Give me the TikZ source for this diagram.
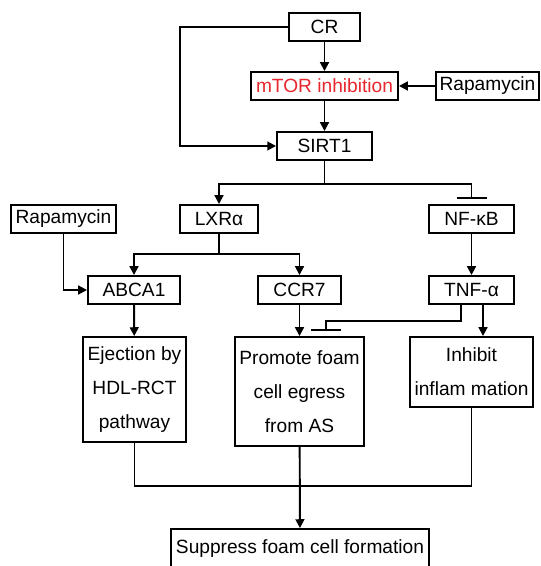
\documentclass[tikz,border=0pt]{standalone}
\usepackage{fontspec}
\setmainfont{Liberation Sans}
\usetikzlibrary{arrows.meta}
\definecolor{mtorred}{HTML}{E8262D}

\begin{document}
\begin{tikzpicture}[
            box/.style={draw, line width=1.1pt, minimum height=0.56cm, inner sep=1pt, align=center, font=\fontsize{10.9}{19.4}\selectfont},
            arrow/.style={-{Triangle[length=5pt,width=5pt]}, line width=1.1pt},
            block/.style={-{Bar[width=0.6cm]}, line width=1.1pt, shorten >=0.1cm}
        ]
            \useasboundingbox (0,0) rectangle (10.8,11.32);

            % Upstream
            \node[box, minimum width=1.42cm] (cr) at (6.49,10.78) {CR};
            \node[box, minimum width=2.94cm, text=mtorred] (mtor) at (6.49,9.60) {mTOR inhibition};
            \node[box, minimum width=2.06cm] (rapa1) at (9.75,9.60) {Rapamycin};
            \node[box, minimum width=1.90cm] (sirt) at (6.49,8.40) {SIRT1};

            % Targets
            \node[box, minimum width=2.10cm] (rapa2) at (1.27,6.94) {Rapamycin};
            \node[box, minimum width=1.56cm] (lxr) at (4.38,6.94) {LXRα};
            \node[box, minimum width=1.70cm] (nfkb) at (9.43,6.94) {NF-κB};
            \node[box, minimum width=1.84cm] (abca) at (2.68,5.52) {ABCA1};
            \node[box, minimum width=1.66cm] (ccr) at (5.99,5.52) {CCR7};
            \node[box, minimum width=1.70cm] (tnf) at (9.43,5.52) {TNF-α};

            % Effects
            \node[box, minimum width=2.06cm, minimum height=2.10cm] (eject) at (2.69,3.53) {Ejection by\\HDL-RCT\\pathway};
            \node[box, minimum width=2.58cm, minimum height=2.18cm] (promote) at (5.99,3.49) {Promote foam\\cell egress\\from AS};
            \node[box, minimum width=2.46cm, minimum height=1.40cm] (inflam) at (9.43,3.88) {Inhibit\\inflam mation};
            \node[box, minimum width=5.16cm, minimum height=0.78cm] (suppress) at (6.00,0.35) {Suppress foam cell formation};

            % Upstream links
            \draw[arrow] (cr) -- (mtor);
            \draw[arrow] (rapa1) -- (mtor);
            \draw[arrow] (mtor) -- (sirt);
            \draw[arrow] (cr.west) -- ++(-2.16,0) |- (sirt.west);

            % SIRT1 split
            \draw[arrow] (sirt.south) -- ++(0,-0.46) coordinate (split1) -| (lxr.north);
            \draw[block] (split1) -| (nfkb.north);

            % LXR split
            \draw[arrow] (lxr.south) -- ++(0,-0.40) coordinate (split2) -| (abca.north);
            \draw[arrow] (split2) -| (ccr.north);
            \draw[arrow] (rapa2.south) |- (abca.west);
            \draw[arrow] (nfkb) -- (tnf);

            % To effects
            \draw[arrow] (abca) -- (eject);
            \draw[arrow] (ccr) -- (promote);
            \draw[arrow] ([xshift=0.23cm]tnf.south) -- ([xshift=0.23cm]inflam.north);
            \draw[block] ([xshift=-0.21cm]tnf.south) -- ++(0,-0.32) -| ([xshift=0.53cm]promote.north);

            % Merge
            \draw[line width=1.1pt] (eject.south) -- ++(0,-0.86) -| (inflam.south);
            \draw[arrow] (promote) -- (suppress);
        \end{tikzpicture}
\end{document}
